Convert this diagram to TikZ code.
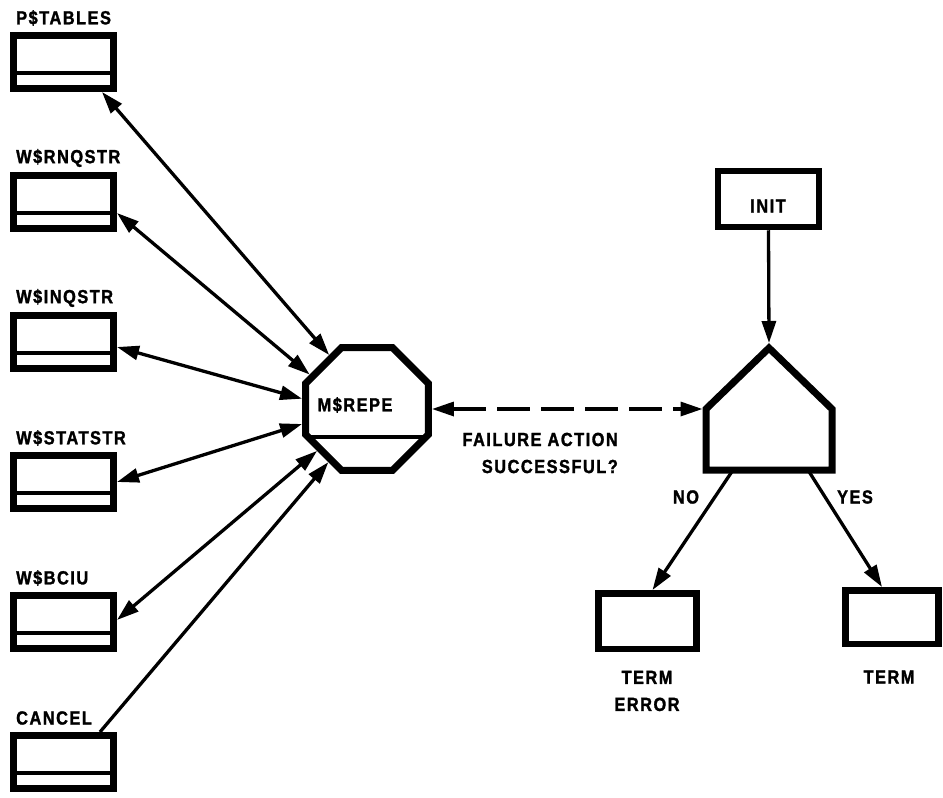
\documentclass[tikz,border=0pt]{standalone}
\usepackage{fontspec}
\setmainfont{Liberation Sans}[LetterSpace=8, FakeStretch=0.86, FakeBold=1.5]
\usetikzlibrary{arrows.meta,shapes.geometric}

\tikzset{
  lbl/.style={font=\bfseries\fontsize{19}{27}\selectfont, inner sep=0pt},
  storebox/.style={draw, line width=7pt, minimum width=100pt, minimum height=53pt, inner sep=0pt,
    path picture={\draw[line width=4.5pt]
      ([yshift=-11pt]path picture bounding box.west) -- ([yshift=-11pt]path picture bounding box.east);}},
  procbox/.style={draw, line width=6.5pt, inner sep=0pt},
  link/.style={line width=3.3pt, -{Triangle[length=22pt,width=14pt]}},
  dlink/.style={line width=3.3pt, {Triangle[length=22pt,width=14pt]}-{Triangle[length=22pt,width=14pt]}},
}

\begin{document}
\begin{tikzpicture}[x=1pt,y=-1pt]
\useasboundingbox[fill=white] (0,0) rectangle (943,798);

% data stores on the left
\foreach \n/\c/\t in {p1/62/P\$TABLES, p2/202/W\$RNQSTR, p3/342/W\$INQSTR,
                      p4/482/W\$STATSTR, p5/622/W\$BCIU, p6/762/CANCEL}{
  \node[storebox] (\n) at (63.5,\c) {};
  \node[lbl, anchor=west] (\n lbl) at (16,\c-44) {\t};
}

% central processing module
\node[regular polygon, regular polygon sides=8, draw, line width=7pt,
      minimum size=133pt, inner sep=0pt,
      path picture={\draw[line width=4.5pt]
        ([yshift=-28pt]path picture bounding box.west) -- ([yshift=-28pt]path picture bounding box.east);}]
      (oct) at (367,409) {};
\node[lbl] (octlbl) at (355,405) {M\$REPE};

% links between stores and module
\draw[dlink] ([xshift=-15pt]p1.south east) -- (oct.125);
\draw[dlink] ([yshift=-11pt]p2.east) -- (oct.149);
\draw[dlink] ([yshift=-5pt]p3.east) -- (oct.171);
\draw[dlink] (p4.east) -- (oct.193);
\draw[dlink] ([yshift=2pt]p5.east) -- (oct.220);
\draw[link] ([xshift=-17pt]p6.north east) -- (oct.234);

% decision block
\node[procbox, minimum width=101pt, minimum height=56pt] (init) at (768.5,199) {};
\node[lbl] (initlbl) at (768,206) {INIT};

\node[inner sep=0pt, outer sep=0pt, minimum width=126pt, minimum height=122pt] (dec) at (769,409) {};
\draw[line width=7pt, line join=miter]
  (dec.south west) -- (dec.south east) -- (dec.east) -- (dec.north) -- (dec.west) -- cycle;

\draw[link] (init.south) -- ([yshift=5pt]dec.north);

\draw[dlink, dash pattern=on 33pt off 11pt] (oct.east) -- ([xshift=-3.5pt]dec.west);
\node[lbl, anchor=east, align=right] (fail) at (618,453) {FAILURE ACTION\\SUCCESSFUL?};

% outcomes
\node[procbox, minimum width=98pt, minimum height=55.5pt] (terr) at (647.5,621) {};
\node[procbox, minimum width=93pt, minimum height=53.5pt] (term) at (892,617) {};

\draw[link] ([xshift=-36pt]dec.south) -- ([xshift=5pt]terr.north);
\draw[link] ([xshift=39pt]dec.south) -- ([xshift=-10pt]term.north);

\node[lbl] (nolbl) at (686,497) {NO};
\node[lbl] (yeslbl) at (855,497) {YES};
\node[lbl, align=center] (terrlbl) at (647,691) {TERM\\ERROR};
\node[lbl] (termlbl) at (889,677) {TERM};
\end{tikzpicture}
\end{document}
